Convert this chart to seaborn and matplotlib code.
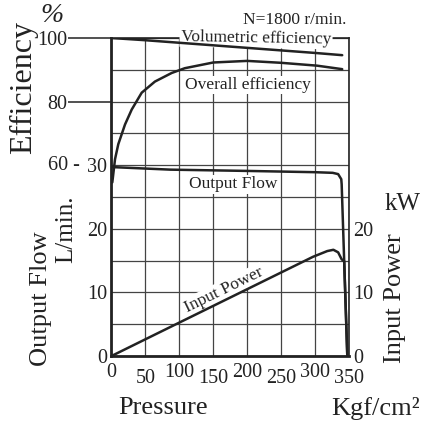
import matplotlib
matplotlib.use('Agg')
import matplotlib.pyplot as plt
import matplotlib.transforms as mtransforms
import seaborn as sns

# ---- data ----
pressure_major = [0, 100, 200, 300]
pressure_minor = [50, 150, 250, 350]
flow_ticks = [0, 10, 20, 30]
power_ticks = [0, 10, 20]
eff_ticks = [80, 100]

# volumetric efficiency (%)
vol_p = [0, 50, 100, 150, 200, 250, 300, 340]
vol_eff = [100, 99.3, 98.5, 97.7, 96.9, 96.1, 95.3, 94.6]

# overall efficiency (%)
ov_p = [1.2, 5.2, 10, 19.9, 29.8, 44.5, 64, 88.7, 108, 150, 200, 250, 303, 340]
ov_eff = [54.6, 61.9, 66.6, 72.8, 77.5, 82.8, 86.3, 89.0, 90.5, 92.3, 92.8, 92.2, 91.3, 90.2]

# output flow (L/min)
flow_p = [1.5, 87, 200, 300, 326, 334, 338.6, 339.2, 347.5]
flow_q = [29.7, 29.3, 29.1, 28.9, 28.8, 28.6, 27.8, 27.0, 0]

# input power (kW)
pow_p = [0, 57, 297, 318, 327, 334, 339.2, 342.9, 347.5]
pow_kw = [0, 3.0, 15.6, 16.5, 16.7, 16.3, 15.2, 14.9, 0]

# ---- style ----
sns.set_style("white")
plt.rcParams['font.family'] = ['Liberation Serif', 'DejaVu Serif']
INK = '#222222'
GRID = '#444444'
W, H = 422, 436


def px(x, y):
    return x / W, 1 - y / H


fig = plt.figure(figsize=(4.22, 4.36), dpi=100)
ax = fig.add_axes([111.5 / W, 1 - 356 / H, 237.5 / W, 318 / H])
ax.set_xlim(0, 350)
ax.set_ylim(0, 50)

# x ticks: staggered labels
ax.set_xticks(pressure_major, labels=[str(v) for v in pressure_major])
ax.set_xticks(pressure_minor, labels=[str(v) for v in pressure_minor], minor=True)
ax.tick_params(axis='x', which='major', length=0, pad=5, labelsize=14.5, colors=INK)
ax.tick_params(axis='x', which='minor', length=5, width=1, pad=4.5, labelsize=14.5,
               colors=INK)

# left flow ticks
ax.set_yticks(flow_ticks, labels=[str(v) for v in flow_ticks])
ax.set_yticks([5, 15, 25, 35, 40, 45, 50], minor=True)
ax.tick_params(axis='y', which='both', length=0, pad=3, labelsize=14.5, colors=INK)

ax.grid(True, which='both', color=GRID, linewidth=0.9)
for side in ['left', 'bottom']:
    ax.spines[side].set_linewidth(2)
    ax.spines[side].set_color(INK)
for side in ['top', 'right']:
    ax.spines[side].set_linewidth(1.2)
    ax.spines[side].set_color(INK)

# efficiency axis (shares the left side)
ax_eff = ax.twinx()
ax_eff.set_ylim(0, 100)
ax_eff.grid(False, which='both')
ax_eff.yaxis.tick_left()
ax_eff.set_yticks(eff_ticks, labels=[str(v) for v in eff_ticks])
ax_eff.tick_params(axis='y', length=31, width=1.1, pad=1, labelsize=14.5, colors=INK)
for s in ax_eff.spines.values():
    s.set_visible(False)
blend = mtransforms.blended_transform_factory(ax_eff.transAxes, ax_eff.transData)
ax_eff.text(-0.135, 60, '60 -', transform=blend, ha='right', va='center',
            fontsize=14.5, color=INK)

# power axis on the right
ax_pow = ax.twinx()
ax_pow.set_ylim(0, 50)
ax_pow.grid(False, which='both')
ax_pow.set_yticks(power_ticks, labels=[str(v) for v in power_ticks])
ax_pow.tick_params(axis='y', length=0, pad=3, labelsize=14.5, colors=INK)
for s in ax_pow.spines.values():
    s.set_visible(False)

# ---- curves ----
lw = 1.8
sns.lineplot(x=vol_p, y=vol_eff, ax=ax_eff, color=INK, linewidth=lw)
sns.lineplot(x=ov_p, y=ov_eff, ax=ax_eff, color=INK, linewidth=lw)
sns.lineplot(x=flow_p, y=flow_q, ax=ax, color=INK, linewidth=lw, zorder=4)
sns.lineplot(x=pow_p, y=pow_kw, ax=ax_pow, color=INK, linewidth=lw)
for a in (ax, ax_eff, ax_pow):
    a.set_xlabel('')
    a.set_ylabel('')
ax.set_xlim(0, 350)

# ---- in-plot labels ----
box = dict(facecolor='white', edgecolor='none', pad=1)
lab = dict(fontsize=12.5, color=INK, ha='center', va='center', bbox=box)
ax.text(213, 49.9, 'Volumetric efficiency', rotation=-1.0, **lab)
ax.text(201, 42.6, 'Overall efficiency', **lab)
ax.text(179, 27.0, 'Output Flow', **lab)
ax.text(166, 10.4, 'Input Power', rotation=26, **lab)
ax.text(345.5, 52.8, 'N=1800 r/min.', fontsize=12.5, color=INK, ha='right',
        va='center', clip_on=False)

# ---- axis titles ----
fig.text(*px(52, 16), '%', fontsize=20, style='italic', ha='center', va='center', color=INK)
fig.text(*px(24, 88), 'Efficiency', fontsize=23, rotation=90, ha='center', va='center', color=INK)
fig.text(*px(41, 299), 'Output Flow', fontsize=19, rotation=90, ha='center', va='center', color=INK)
fig.text(*px(66, 229), 'L/min.', fontsize=18, rotation=90, ha='center', va='center', color=INK)
fig.text(*px(403, 204), 'kW', fontsize=18, ha='center', va='center', color=INK)
fig.text(*px(395, 298), 'Input Power', fontsize=19, rotation=90, ha='center', va='center', color=INK)
fig.text(*px(163, 408), 'Pressure', fontsize=19, ha='center', va='center', color=INK)
fig.text(*px(376, 408), 'Kgf/cm²', fontsize=19, ha='center', va='center', color=INK)

fig.savefig('out.png', dpi=100)
